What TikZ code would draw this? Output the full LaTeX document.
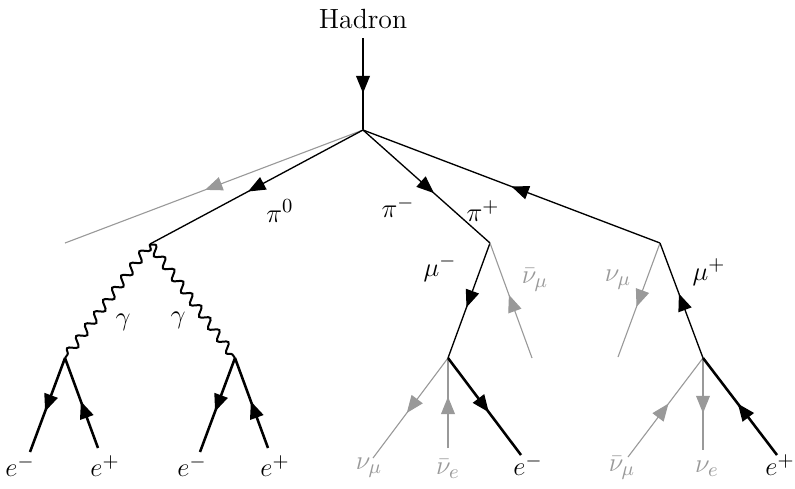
\documentclass[tikz,border=0pt]{standalone}
\usetikzlibrary{arrows.meta,decorations.markings,decorations.pathmorphing}
\begin{document}
\begin{tikzpicture}[x=0.45pt,y=-0.45pt,
  fl/.style={postaction={decorate},decoration={markings,mark=at position #1 with {\arrow{Triangle[length=7.8pt,width=6.2pt]}}}},
  fl/.default=0.56,
  plain/.style={line width=0.6pt},
  lepton/.style={line width=1.15pt},
  nu/.style={color=black!40,line width=0.5pt},
  photon/.style={decorate,decoration={snake,segment length=6.8pt,amplitude=1.9pt},line width=0.9pt},
  lbl/.style={inner sep=0pt,font=\fontsize{12.5}{15}\selectfont},
  glbl/.style={lbl,text=black!40}]
\useasboundingbox (0,0) rectangle (795,488);
% vertices
\coordinate (V) at (363,130);
\coordinate (top) at (363,38);
\coordinate (G) at (150,244);
\coordinate (P) at (490,243);
\coordinate (M) at (660,243);
\coordinate (A) at (65,358);
\coordinate (B) at (235,358);
\coordinate (C) at (448,358);
\coordinate (D) at (703,358);
% free ends
\coordinate (gl) at (65,243);
\coordinate (nmb1) at (532,358);
\coordinate (nm1) at (618,357);
\coordinate (ae1) at (30,452);
\coordinate (ap1) at (98,448);
\coordinate (be1) at (200,452);
\coordinate (bp1) at (268,448);
\coordinate (cn) at (373,458);
\coordinate (cnb) at (448,448);
\coordinate (ce) at (521,455);
\coordinate (dnb) at (628,457);
\coordinate (dn) at (703,450);
\coordinate (dp) at (777,455);
% labels
\node[lbl] (had) at (363,19) {Hadron};
\node[lbl] (lpi0) at (280,211) {$\pi^0$};
\node[lbl] (lpim) at (398,207) {$\pi^-$};
\node[lbl] (lpip) at (483,211) {$\pi^+$};
\node[lbl] (lmum) at (440,268) {$\mu^-$};
\node[glbl] (lnmb) at (535,280) {$\bar\nu_\mu$};
\node[glbl] (lnm) at (618,280) {$\nu_\mu$};
\node[lbl] (lmup) at (709,272) {$\mu^+$};
\node[lbl] (lg1) at (123,322) {$\gamma$};
\node[lbl] (lg2) at (178,320) {$\gamma$};
\node[lbl] (l1) at (20,466) {$e^-$};
\node[lbl] (l2) at (105,466) {$e^+$};
\node[lbl] (l3) at (192,466) {$e^-$};
\node[lbl] (l4) at (275,466) {$e^+$};
\node[glbl] (l5) at (369,468) {$\nu_\mu$};
\node[glbl] (l6) at (448,469) {$\bar\nu_e$};
\node[lbl] (l7) at (528,465) {$e^-$};
\node[glbl] (l8) at (622,468) {$\bar\nu_\mu$};
\node[glbl] (l9) at (707,469) {$\nu_e$};
\node[lbl] (l10) at (780,465) {$e^+$};
% lines
\draw[plain,fl=0.6] (top) -- (V);
\draw[nu,fl=0.53] (V) -- (gl);
\draw[plain,fl=0.54] (V) -- (G);
\draw[plain,fl=0.56] (V) -- (P);
\draw[plain,fl=0.5] (M) -- (V);
\draw[photon] (G) -- (A);
\draw[photon] (G) -- (B);
\draw[lepton,fl=0.57] (A) -- (ae1);
\draw[lepton,fl=0.52] (ap1) -- (A);
\draw[lepton,fl=0.57] (B) -- (be1);
\draw[lepton,fl=0.52] (bp1) -- (B);
\draw[plain,fl=0.56] (P) -- (C);
\draw[nu,fl=0.55] (nmb1) -- (P);
\draw[nu,fl=0.56] (M) -- (nm1);
\draw[plain,fl=0.56] (D) -- (M);
\draw[nu,fl=0.55] (C) -- (cn);
\draw[nu,fl=0.57] (cnb) -- (C);
\draw[lepton,fl=0.56] (C) -- (ce);
\draw[nu,fl=0.54] (dnb) -- (D);
\draw[nu,fl=0.6] (D) -- (dn);
\draw[lepton,fl=0.53] (dp) -- (D);
\end{tikzpicture}
\end{document}
